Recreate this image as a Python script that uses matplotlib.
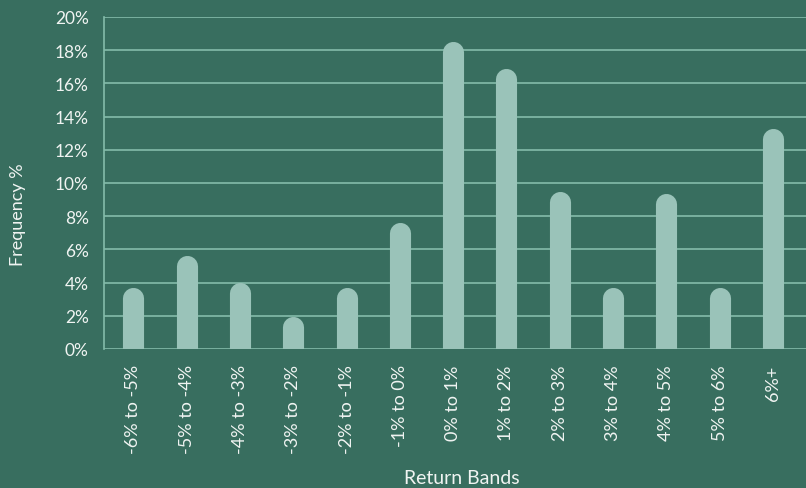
import numpy as np
import matplotlib
matplotlib.use('Agg')
import matplotlib.pyplot as plt

bands = ['-6% to -5%', '-5% to -4%', '-4% to -3%', '-3% to -2%', '-2% to -1%',
         '-1% to 0%', '0% to 1%', '1% to 2%', '2% to 3%', '3% to 4%',
         '4% to 5%', '5% to 6%', '6%+']
freq = [3.7, 5.65, 4.0, 1.95, 3.7, 7.6, 18.5, 16.9, 9.5, 3.7, 9.35, 3.7, 13.3]
yticks = [0, 2, 4, 6, 8, 10, 12, 14, 16, 18, 20]

bg = '#386e5f'
bar_col = '#9ac3b9'
grid_col = '#84bcaa'
txt = '#f0f4f2'

plt.rcParams['font.family'] = ['Lato', 'DejaVu Sans']

fig = plt.figure(figsize=(8.06, 4.89), dpi=100, facecolor=bg)
ax = fig.add_axes([0.129, 0.2843, 0.871, 0.6789])
ax.set_facecolor(bg)

x = np.arange(len(bands))
ax.set_xlim(-0.55, 12.62)
ax.set_ylim(0, 20)

# rounded tops: thick lines with round caps, bottom cap clipped at 0
lw_pt = 15.2
r_data = (lw_pt / 72 * 100 / 2) / (0.6789 * 489 / 20)
for xi, v in zip(x, freq):
    ax.plot([xi, xi], [-1, v - r_data], color=bar_col, linewidth=lw_pt,
            solid_capstyle='round', zorder=3)

ax.set_yticks(yticks)
ax.set_yticklabels([f'{t}%' for t in yticks])
ax.set_xticks(x)
ax.set_xticklabels(bands, rotation=90)
ax.yaxis.grid(True, color=grid_col, linewidth=1.2)
ax.set_axisbelow(True)
ax.tick_params(length=0, colors=txt)
ax.tick_params(axis='y', pad=11, labelsize=12.5)
ax.tick_params(axis='x', pad=11, labelsize=13)

for s in ['top', 'right', 'bottom']:
    ax.spines[s].set_visible(False)
ax.spines['left'].set_color(grid_col)
ax.spines['left'].set_linewidth(1.2)

fig.text(0.022, 1 - 215 / 489, 'Frequency %', color=txt, fontsize=13,
         rotation=90, ha='center', va='center')
fig.text(0.573, 0.022, 'Return Bands', color=txt, fontsize=14, ha='center',
         va='center')

fig.savefig('out.png', dpi=100, facecolor=bg)
